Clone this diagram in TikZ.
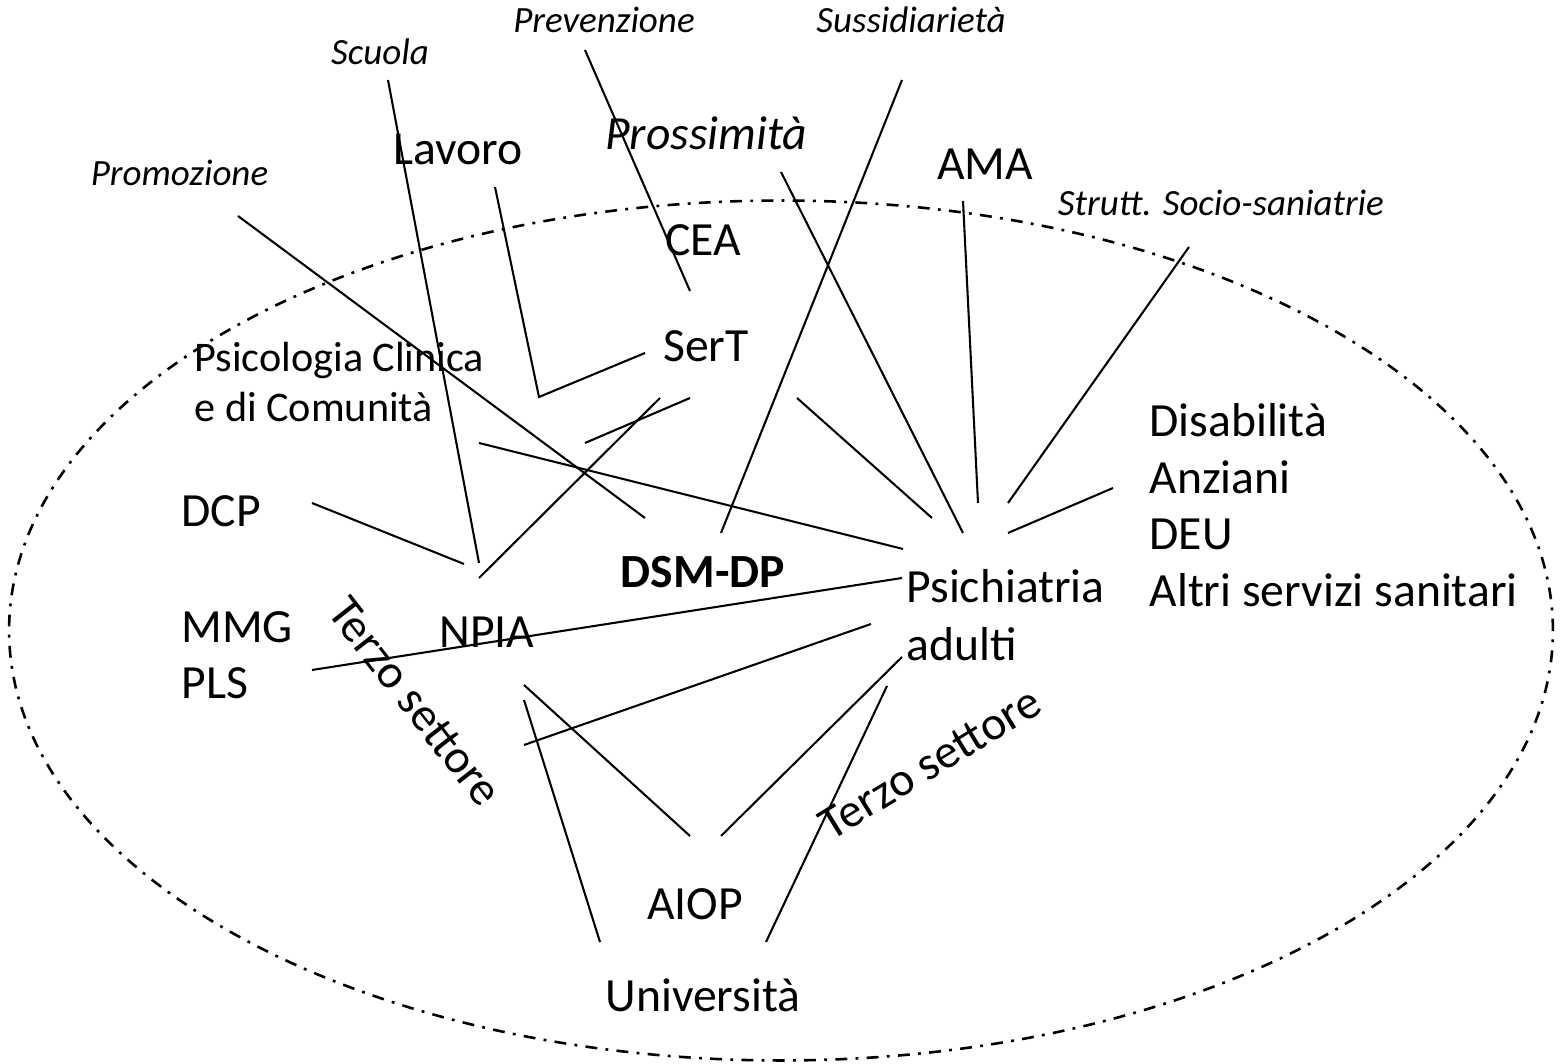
\documentclass[tikz,border=0pt]{standalone}
\usepackage{fontspec}
\setmainfont{Carlito}
\begin{document}
\begin{tikzpicture}[x=0.3863pt,y=-0.3863pt,
  lbl/.style={inner sep=0pt, anchor=base, font=\fontsize{18.4}{22}\selectfont},
  lbll/.style={lbl, anchor=base west},
  small/.style={lbll, font=\fontsize{16.3}{19}\selectfont},
  theme/.style={inner sep=0pt, anchor=base, font=\itshape\fontsize{14.3}{17}\selectfont},
  bigtheme/.style={lbl, font=\itshape\fontsize{18.4}{22}\selectfont},
  slanted/.style={inner sep=0pt, anchor=center, font=\fontsize{18.4}{22}\selectfont},
  link/.style={line width=0.8pt},
  border/.style={line width=1pt, dash pattern=on 4.6pt off 3.2pt on 1.1pt off 3.2pt}]
\useasboundingbox (0,0) rectangle (1560,1064);

% dash-dot boundary of the network
\draw[border] (781,630.5) ellipse [x radius=298.2pt, y radius=166.1pt];

% guiding principles (outside)
\node[theme] (scuola) at (380,65) {Scuola};
\node[theme] (promozione) at (179.5,186) {Promozione};
\node[theme] (prevenzione) at (604,33) {Prevenzione};
\node[theme] (sussidiarieta) at (911,33) {Sussidiarietà};
\node[theme] (strutt) at (1221,215.7) {Strutt. Socio-saniatrie};
\node[bigtheme] (prossimita) at (706,150) {Prossimità};

% services
\node[lbl] (lavoro) at (458,165) {Lavoro};
\node[lbl] (ama) at (985,180) {AMA};
\node[lbl] (cea) at (703,256) {CEA};
\node[lbl] (sert) at (706,362) {SerT};
\node[lbl, font=\bfseries\fontsize{18.4}{22}\selectfont] (dsm) at (703,588) {DSM-DP};
\node[lbl] (npia) at (487,648) {NPIA};
\node[lbl] (aiop) at (695,920) {AIOP};
\node[lbl] (univ) at (703,1012) {Università};
\node[lbll] (dcp) at (181,527) {DCP};
\node[lbll] (mmg) at (181,643) {MMG};
\node[lbll] (pls) at (181,699) {PLS};
\node[lbll] (psich) at (906,603) {Psichiatria};
\node[lbll] (adulti) at (906,661) {adulti};
\node[small] (psicol) at (194,372) {Psicologia Clinica};
\node[small] (comunita) at (194,422) {e di Comunità};
\node[lbll] (disab) at (1149,437) {Disabilità};
\node[lbll] (anziani) at (1149,494) {Anziani};
\node[lbll] (deu) at (1149,550) {DEU};
\node[lbll] (altri) at (1149,607) {Altri servizi sanitari};
\node[slanted, rotate=-52] (terzoA) at (415,702) {Terzo settore};
\node[slanted, rotate=31.5] (terzoB) at (930,763) {Terzo settore};

% connector end points
\coordinate (scuolaA) at (388,80);   \coordinate (scuolaB) at (479,563);
\coordinate (lavA) at (495,187);     \coordinate (lavB) at (539,397);
\coordinate (lavC) at (645,353);
\coordinate (promA) at (238,216);    \coordinate (promB) at (645,518);
\coordinate (prevA) at (585,50);     \coordinate (prevB) at (690,291);
\coordinate (sussA) at (902,80);     \coordinate (sussB) at (721,533);
\coordinate (prossA) at (781,172);   \coordinate (prossB) at (963,533);
\coordinate (amaA) at (963,201);     \coordinate (amaB) at (978,503);
\coordinate (struttA) at (1189,247); \coordinate (struttB) at (1008,503);
\coordinate (disA) at (1113,488);    \coordinate (disB) at (1008,533);
\coordinate (psA) at (797,398);      \coordinate (psB) at (932,518);
\coordinate (sertA) at (690,398);    \coordinate (sertB) at (585,443);
\coordinate (npsA) at (660,398);     \coordinate (npsB) at (479,578);
\coordinate (pcA) at (479,443);      \coordinate (pcB) at (903,549);
\coordinate (dcpA) at (312,503);     \coordinate (dcpB) at (464,564);
\coordinate (mmgA) at (312,670);     \coordinate (mmgB) at (902,578);
\coordinate (npiaA) at (524,745);    \coordinate (npiaB) at (871,624);
\coordinate (npaA) at (524,685);     \coordinate (npaB) at (690,836);
\coordinate (npuA) at (524,700);     \coordinate (npuB) at (600,942);
\coordinate (apA) at (721,836);      \coordinate (apB) at (902,657);
\coordinate (upA) at (766,942);      \coordinate (upB) at (887,686);

% connectors
\draw[link] (scuolaA) -- (scuolaB);
\draw[link] (lavA) -- (lavB) -- (lavC);
\draw[link] (promA) -- (promB);
\draw[link] (prevA) -- (prevB);
\draw[link] (sussA) -- (sussB);
\draw[link] (prossA) -- (prossB);
\draw[link] (amaA) -- (amaB);
\draw[link] (struttA) -- (struttB);
\draw[link] (disA) -- (disB);
\draw[link] (psA) -- (psB);
\draw[link] (sertA) -- (sertB);
\draw[link] (npsA) -- (npsB);
\draw[link] (pcA) -- (pcB);
\draw[link] (dcpA) -- (dcpB);
\draw[link] (mmgA) -- (mmgB);
\draw[link] (npiaA) -- (npiaB);
\draw[link] (npaA) -- (npaB);
\draw[link] (npuA) -- (npuB);
\draw[link] (apA) -- (apB);
\draw[link] (upA) -- (upB);
\end{tikzpicture}
\end{document}
